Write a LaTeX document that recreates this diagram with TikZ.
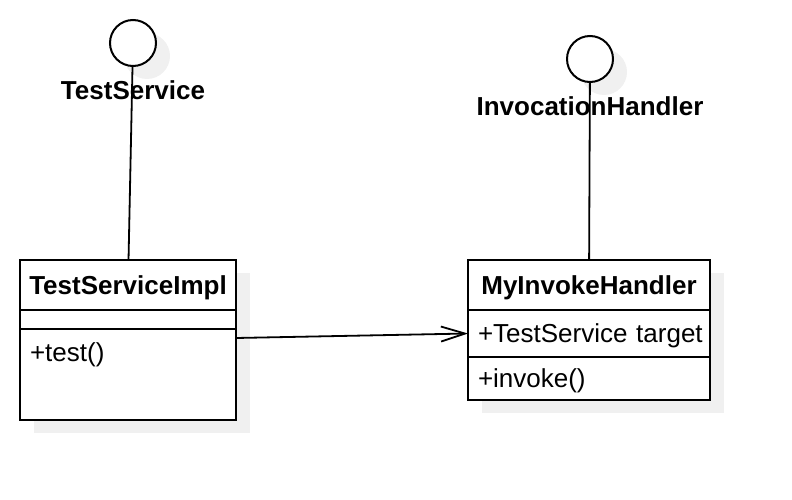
\documentclass[tikz,border=0pt]{standalone}
\usepackage{fontspec}
\setmainfont{Liberation Sans}
\usetikzlibrary{positioning,calc,backgrounds,arrows.meta}
\definecolor{shadowgrey}{RGB}{240,240,240}

\begin{document}
\begin{tikzpicture}[x=1pt,y=-1pt,
  every node/.style={font=\fontsize{26}{30}\selectfont,outer sep=0pt},
  iface/.style={draw,circle,line width=2pt,fill=white,minimum size=46pt,inner sep=0pt},
  ifacename/.style={font=\fontsize{26}{30}\selectfont\bfseries,
                    text height=18pt,text depth=0pt,inner sep=0pt},
  classname/.style={draw,line width=2pt,fill=white,anchor=north west,minimum height=50pt,
                    font=\fontsize{26}{30}\selectfont\bfseries,text height=18pt,text depth=0pt},
  member/.style={draw,line width=2pt,fill=white,align=left,inner xsep=10pt,
                 text height=18pt,text depth=0pt},
  link/.style={line width=1.8pt}]
  \useasboundingbox (0,0) rectangle (792,500);

  % interfaces
  \node[iface] (tscircle) at (133,43) {};
  \node[ifacename] (tsname) at (133,91) {TestService};
  \node[iface] (ihcircle) at (590,59) {};
  \node[ifacename] (ihname) at (590,107) {InvocationHandler};

  % classes
  \node[classname,minimum width=216pt] (tsi) at (20,260) {TestServiceImpl};
  \node[member,below=0pt of tsi,text width=196pt,minimum height=19pt,
        text height=0pt,inner ysep=0pt] (tsiattr) {};
  \node[member,below=0pt of tsiattr,text width=196pt,minimum height=91pt,
        inner ysep=14pt,text depth=45pt] (tsiops) {+test()};

  \node[classname,minimum width=242pt] (mih) at (468,260) {MyInvokeHandler};
  \node[member,below=0pt of mih,text width=222pt,minimum height=47pt] (mihattr) {\mbox{+TestService target}};
  \node[member,below=0pt of mihattr,text width=222pt,minimum height=43pt] (mihops) {+invoke()};

  % shadows
  \begin{scope}[on background layer]
    \fill[shadowgrey] ($(tscircle)+(14,13)$) circle (23pt);
    \fill[shadowgrey] ($(ihcircle)+(14,13)$) circle (23pt);
    \fill[shadowgrey] ($(tsi.north west)+(14,13)$) rectangle ($(tsiops.south east)+(14,13)$);
    \fill[shadowgrey] ($(mih.north west)+(14,13)$) rectangle ($(mihops.south east)+(14,13)$);
  \end{scope}

  % connectors
  \draw[link] (tscircle) -- (tsi);
  \draw[link] (ihcircle) -- (mih);
  \draw[link,-{Straight Barb[length=24pt,width=15pt]}]
    ([yshift=-9pt]tsiops.north east) -- (mihattr.west);
\end{tikzpicture}
\end{document}
